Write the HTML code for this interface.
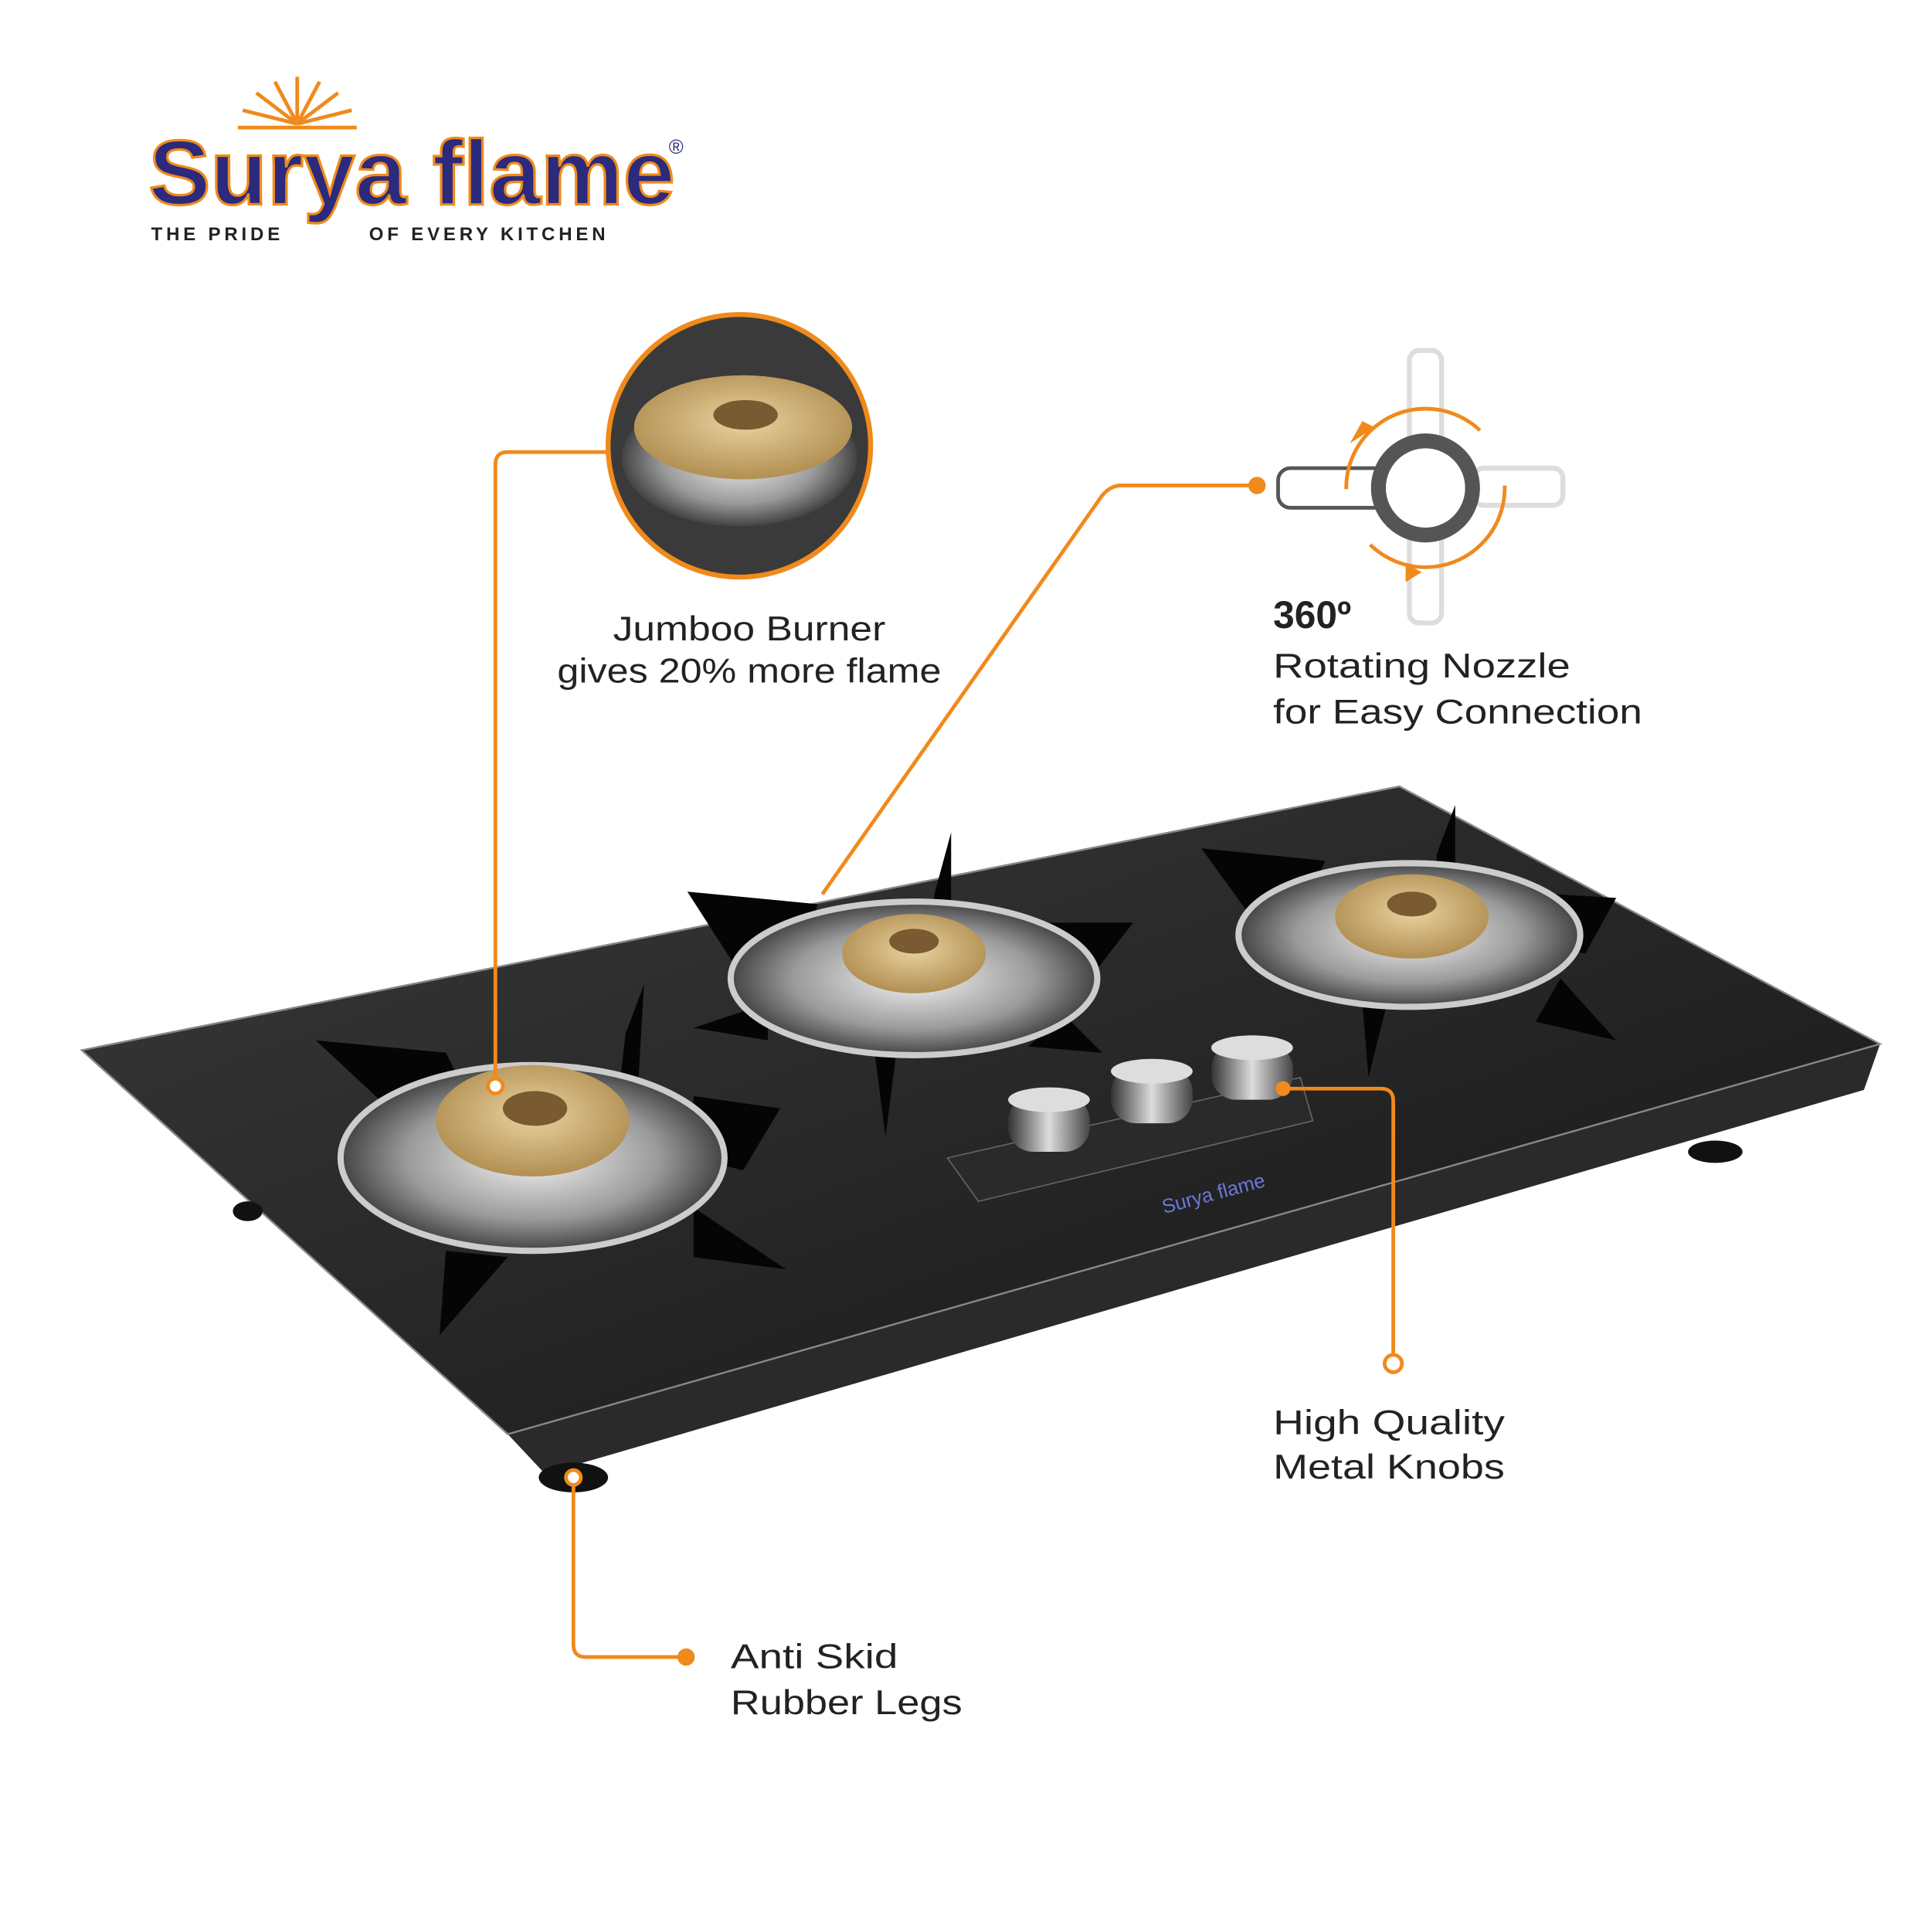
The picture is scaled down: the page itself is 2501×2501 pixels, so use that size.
<!DOCTYPE html>
<html><head><meta charset="utf-8"><style>
html,body{margin:0;padding:0;background:#fff}
svg{display:block}
text{font-family:"Liberation Sans",sans-serif}
</style></head><body>
<svg width="2501" height="2501" viewBox="0 0 1560 1560" xmlns="http://www.w3.org/2000/svg">
<defs>
<radialGradient id="brass" cx="50%" cy="45%" r="55%"><stop offset="0" stop-color="#e9d3a0"/><stop offset="1" stop-color="#b28f52"/></radialGradient>
<radialGradient id="steel" cx="50%" cy="50%" r="55%"><stop offset="0" stop-color="#f4f4f4"/><stop offset=".6" stop-color="#9a9a9a"/><stop offset="1" stop-color="#2a2a2a"/></radialGradient>
<linearGradient id="knob" x1="0" x2="1"><stop offset="0" stop-color="#333"/><stop offset=".5" stop-color="#ddd"/><stop offset="1" stop-color="#444"/></linearGradient>
<linearGradient id="glass" x1="0" y1="0" x2="1" y2="1"><stop offset="0" stop-color="#3a3a3a"/><stop offset="1" stop-color="#151515"/></linearGradient>
</defs>
<g stroke="#f08a1c" stroke-width="3">
<line x1="240" y1="100" x2="240" y2="62"/><line x1="240" y1="100" x2="222" y2="66"/><line x1="240" y1="100" x2="258" y2="66"/>
<line x1="240" y1="100" x2="207" y2="75"/><line x1="240" y1="100" x2="273" y2="75"/><line x1="240" y1="100" x2="196" y2="89"/><line x1="240" y1="100" x2="284" y2="89"/>
<line x1="192" y1="103" x2="288" y2="103"/>
</g>
<text x="120" y="165" font-family="Liberation Serif,serif" font-weight="bold" font-size="74" fill="#2b2a7c" stroke="#f08a1c" stroke-width="2" textLength="425" lengthAdjust="spacingAndGlyphs">Surya flame</text>
<text x="540" y="124" font-size="16" fill="#2b2a7c">®</text>
<text x="122" y="194" font-size="15" font-weight="bold" fill="#222" letter-spacing="3">THE PRIDE</text>
<text x="298" y="194" font-size="15" font-weight="bold" fill="#222" letter-spacing="3">OF EVERY KITCHEN</text>
<polygon points="66,848 410,1158 440,1185 1505,880 1518,843 1130,635" fill="#1b1b1b"/>
<polygon points="410,1158 1518,843 1505,880 440,1190" fill="#2a2a2a"/>
<polygon points="66,848 1130,635 1518,843 410,1158" fill="url(#glass)" stroke="#888" stroke-width="1.5"/>
<ellipse cx="463" cy="1193" rx="28" ry="12" fill="#111"/>
<ellipse cx="1385" cy="930" rx="22" ry="9" fill="#111"/>
<ellipse cx="200" cy="978" rx="12" ry="8" fill="#111"/>
<g fill="#050505">
<polygon points="255,840 360,850 385,900 330,910"/>
<polygon points="505,835 520,795 515,880 500,880"/>
<polygon points="560,885 630,895 600,945 560,935"/>
<polygon points="560,975 635,1025 560,1015"/>
<polygon points="360,1010 410,1015 355,1078"/>
</g>
<ellipse cx="430" cy="935" rx="155" ry="75" fill="url(#steel)" stroke="#ccc" stroke-width="5"/>
<ellipse cx="430" cy="905" rx="78" ry="45" fill="url(#brass)"/>
<ellipse cx="432" cy="895" rx="26" ry="14" fill="#7a5a30"/>
<g fill="#050505">
<polygon points="555,720 660,730 650,780 600,790"/>
<polygon points="755,720 768,672 768,750 750,750"/>
<polygon points="820,745 915,745 880,790 840,790"/>
<polygon points="860,820 890,850 830,845"/>
<polygon points="560,830 620,810 620,840"/>
<polygon points="705,840 725,840 715,918"/>
</g>
<ellipse cx="738" cy="790" rx="148" ry="62" fill="url(#steel)" stroke="#ccc" stroke-width="5"/>
<ellipse cx="738" cy="770" rx="58" ry="32" fill="url(#brass)"/>
<ellipse cx="738" cy="760" rx="20" ry="10" fill="#7a5a30"/>
<g fill="#050505">
<polygon points="970,685 1070,695 1050,740 1010,740"/>
<polygon points="1160,690 1175,650 1175,720 1160,720"/>
<polygon points="1220,720 1305,725 1280,770 1240,760"/>
<polygon points="1260,790 1305,840 1240,825"/>
<polygon points="1100,810 1120,810 1105,870"/>
</g>
<ellipse cx="1138" cy="755" rx="138" ry="58" fill="url(#steel)" stroke="#ccc" stroke-width="5"/>
<ellipse cx="1140" cy="740" rx="62" ry="34" fill="url(#brass)"/>
<ellipse cx="1140" cy="730" rx="20" ry="10" fill="#7a5a30"/>
<polygon points="765,935 1050,870 1060,905 790,970" fill="#2a2a2a" stroke="#666"/>
<rect x="814" y="885" width="66" height="45" rx="20" fill="url(#knob)"/><ellipse cx="847" cy="888" rx="33" ry="10" fill="#ddd"/>
<rect x="897" y="862" width="66" height="45" rx="20" fill="url(#knob)"/><ellipse cx="930" cy="865" rx="33" ry="10" fill="#ddd"/>
<rect x="978" y="843" width="66" height="45" rx="20" fill="url(#knob)"/><ellipse cx="1011" cy="846" rx="33" ry="10" fill="#ddd"/>
<text x="940" y="980" font-family="Liberation Serif,serif" font-size="16" fill="#6a78d8" transform="rotate(-15 940 980)">Surya flame</text>
<circle cx="597" cy="360" r="106" fill="#3a3a3a" stroke="#f08a1c" stroke-width="4"/>
<ellipse cx="597" cy="370" rx="95" ry="55" fill="url(#steel)"/>
<ellipse cx="600" cy="345" rx="88" ry="42" fill="url(#brass)"/>
<ellipse cx="602" cy="335" rx="26" ry="12" fill="#7a5a30"/>
<g fill="none" stroke="#ddd" stroke-width="4"><rect x="1138" y="283" width="26" height="220" rx="8"/><rect x="1190" y="378" width="72" height="30" rx="8"/></g>
<rect x="1032" y="378" width="90" height="32" rx="10" fill="#fff" stroke="#555" stroke-width="3"/>
<circle cx="1151" cy="394" r="38" fill="#fff" stroke="#555" stroke-width="12"/>
<circle cx="1151" cy="394" r="64" fill="none" stroke="#f08a1c" stroke-width="3" stroke-dasharray="150 50"/>
<polygon points="1090,358 1110,345 1100,340" fill="#f08a1c"/><polygon points="1135,455 1148,462 1135,470" fill="#f08a1c"/>
<g fill="none" stroke="#f08a1c" stroke-width="3">
<path d="M400 877 V375 Q400 365 410 365 H492"/>
<path d="M664 722 L890 400 Q897 392 905 392 H1015"/>
<path d="M1036 879 H1115 Q1125 879 1125 889 V1095"/>
<path d="M463 1198 V1328 Q463 1338 473 1338 H553"/>
</g>
<circle cx="400" cy="877" r="6" fill="#fff" stroke="#f08a1c" stroke-width="3"/>
<circle cx="1015" cy="392" r="7" fill="#f08a1c"/>
<circle cx="1036" cy="879" r="6" fill="#f08a1c"/>
<circle cx="1125" cy="1101" r="7" fill="#fff" stroke="#f08a1c" stroke-width="3"/>
<circle cx="463" cy="1193" r="6" fill="#fff" stroke="#f08a1c" stroke-width="3"/>
<circle cx="554" cy="1338" r="7" fill="#f08a1c"/>
<g font-size="28" fill="#222">
<text x="605" y="517" text-anchor="middle" textLength="220" lengthAdjust="spacingAndGlyphs">Jumboo Burner</text>
<text x="605" y="551" text-anchor="middle" textLength="310" lengthAdjust="spacingAndGlyphs">gives 20% more flame</text>
<text x="1028" y="507" font-weight="bold" font-size="31">360º</text>
<text x="1028" y="547" textLength="240" lengthAdjust="spacingAndGlyphs">Rotating Nozzle</text>
<text x="1028" y="584" textLength="298" lengthAdjust="spacingAndGlyphs">for Easy Connection</text>
<text x="1028" y="1158" textLength="187" lengthAdjust="spacingAndGlyphs">High Quality</text>
<text x="1028" y="1194" textLength="187" lengthAdjust="spacingAndGlyphs">Metal Knobs</text>
<text x="590" y="1347" textLength="135" lengthAdjust="spacingAndGlyphs">Anti Skid</text>
<text x="590" y="1384" textLength="187" lengthAdjust="spacingAndGlyphs">Rubber Legs</text>
</g>
</svg>
</body></html>
